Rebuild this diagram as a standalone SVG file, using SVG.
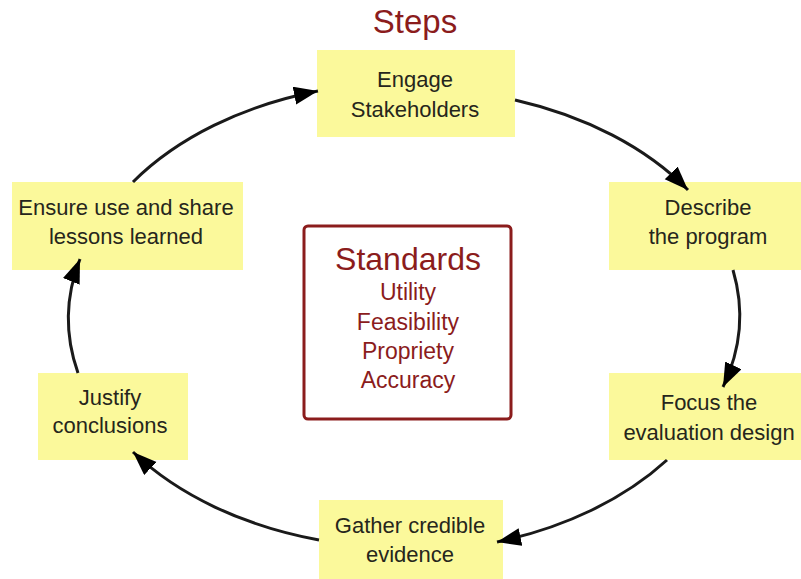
<svg xmlns="http://www.w3.org/2000/svg" width="801" height="579" viewBox="0 0 801 579">
<style>
.box{fill:#fbf99b;stroke:none}
.t{font-family:"Liberation Sans",Arial,sans-serif;font-size:22px;fill:#26261c;text-anchor:middle}
.red{fill:#8b1c1c;font-family:"Liberation Sans",Arial,sans-serif;text-anchor:middle}
.c{fill:none;stroke:#1a1a1a;stroke-width:3;marker-end:url(#ah)}
</style>
<defs>
<marker id="ah" markerUnits="userSpaceOnUse" markerWidth="26" markerHeight="20" refX="24" refY="9" orient="auto">
<path d="M0,0 L24,9 L0,18 z" fill="#000"/>
</marker>
</defs>
<rect width="801" height="579" fill="#fff"/>
<text class="red" x="415" y="33" font-size="33">Steps</text>
<g id="engage"><rect class="box" x="317" y="50" width="198" height="87"/><text class="t" x="415" y="87">Engage</text><text class="t" x="415" y="117">Stakeholders</text></g>
<g id="describe"><rect class="box" x="609" y="182" width="192" height="88"/><text class="t" x="708" y="215">Describe</text><text class="t" x="708" y="244">the program</text></g>
<g id="focus"><rect class="box" x="609" y="373" width="192" height="87"/><text class="t" x="709" y="410">Focus the</text><text class="t" x="709" y="440">evaluation design</text></g>
<g id="gather"><rect class="box" x="319" y="500" width="184" height="79"/><text class="t" x="410" y="533">Gather credible</text><text class="t" x="410" y="562">evidence</text></g>
<g id="justify"><rect class="box" x="38" y="373" width="150" height="87"/><text class="t" x="110" y="405">Justify</text><text class="t" x="110" y="433">conclusions</text></g>
<g id="ensure"><rect class="box" x="12" y="182" width="231" height="88"/><text class="t" x="126" y="215">Ensure use and share</text><text class="t" x="126" y="244">lessons learned</text></g>
<g id="standards"><rect x="304" y="226" width="207" height="193" rx="4" fill="#fff" stroke="#8b1c1c" stroke-width="3"/><text class="red" x="408" y="270" font-size="32">Standards</text><text class="red" x="408" y="300" font-size="23">Utility</text><text class="red" x="408" y="330" font-size="23">Feasibility</text><text class="red" x="408" y="359" font-size="23">Propriety</text><text class="red" x="408" y="388" font-size="23">Accuracy</text></g>
<g id="connectors">
<path class="c" d="M133,182 A336,230 0 0 1 318,91"/>
<path class="c" d="M515,100 A336,230 0 0 1 688,190"/>
<path class="c" d="M733,270 A336,230 0 0 1 723,387"/>
<path class="c" d="M667,460 A336,230 0 0 1 497,542"/>
<path class="c" d="M319,540 A336,230 0 0 1 133,452"/>
<path class="c" d="M78,373 A336,230 0 0 1 80,259"/>
</g>
</svg>
